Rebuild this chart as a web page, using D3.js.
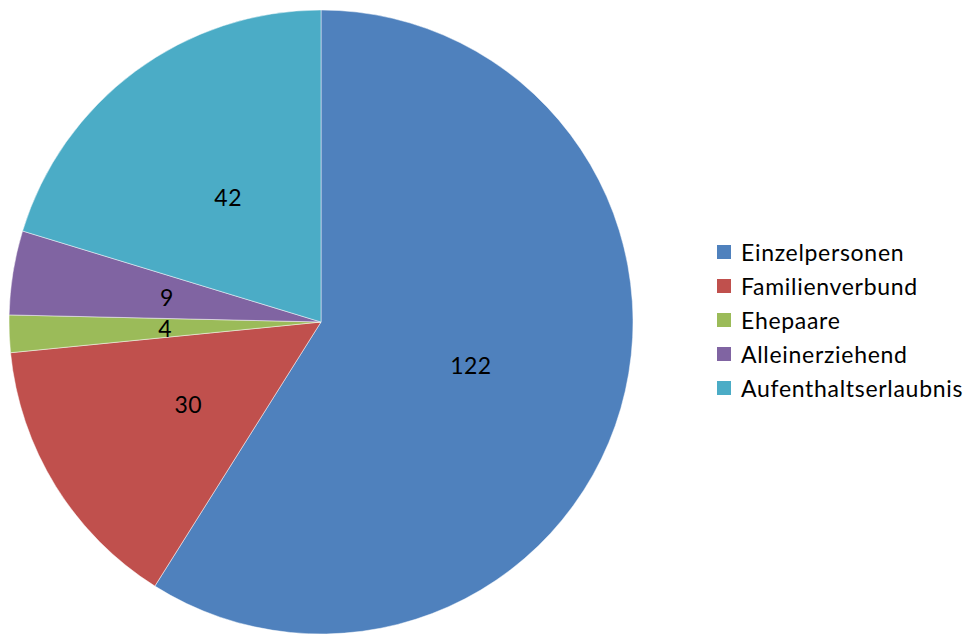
<!DOCTYPE html>
<html>
<head>
<meta charset="utf-8">
<script src="https://cdn.jsdelivr.net/npm/d3@7"></script>
<style>
  html, body { margin: 0; padding: 0; background: #ffffff; }
  svg { display: block; font-family: Lato, "Open Sans", sans-serif; }
</style>
</head>
<body>
<svg id="chart" width="970" height="635"></svg>
<script>
// Household types and their counts
const categories = ["Einzelpersonen", "Familienverbund", "Ehepaare", "Alleinerziehend", "Aufenthaltserlaubnis"];
const values = [122, 30, 4, 9, 42];
const colors = ["#4F81BD", "#C0504D", "#9BBB59", "#8064A2", "#4BACC6"];

const svg = d3.select("#chart");
const cx = 321, cy = 322, radius = 312;

const data = categories.map((c, i) => ({ name: c, value: values[i] }));

const pie = d3.pie().value(d => d.value).sort(null);
const arc = d3.arc().innerRadius(0).outerRadius(radius);
const labelArc = d3.arc().innerRadius(radius * 0.5).outerRadius(radius * 0.5);
const color = d3.scaleOrdinal().domain(categories).range(colors);

const g = svg.append("g").attr("transform", `translate(${cx},${cy})`);
const arcs = pie(data);

g.selectAll("path.slice")
  .data(arcs)
  .enter().append("path")
  .attr("class", "slice")
  .attr("d", arc)
  .attr("fill", d => color(d.data.name))
  .attr("stroke", "#ffffff")
  .attr("stroke-width", 0.8)
  .attr("stroke-opacity", 0.6);

g.selectAll("text.val")
  .data(arcs)
  .enter().append("text")
  .attr("class", "val")
  .attr("transform", d => `translate(${labelArc.centroid(d)})`)
  .attr("text-anchor", "middle")
  .attr("dominant-baseline", "central")
  .attr("font-size", 23)
  .attr("letter-spacing", 0.5)
  .attr("fill", "#000")
  .text(d => d.data.value);

// Legend
const legend = svg.append("g").attr("transform", "translate(717,252)");
const rowH = 34;
const rows = legend.selectAll("g.row")
  .data(categories)
  .enter().append("g")
  .attr("class", "row")
  .attr("transform", (d, i) => `translate(0,${i * rowH})`);

rows.append("rect")
  .attr("x", 0).attr("y", -7)
  .attr("width", 14).attr("height", 14)
  .attr("fill", d => color(d));

rows.append("text")
  .attr("x", 24).attr("y", 0)
  .attr("dominant-baseline", "central")
  .attr("font-size", 23)
  .attr("letter-spacing", 0.7)
  .attr("fill", "#000")
  .text(d => d);
</script>
</body>
</html>
